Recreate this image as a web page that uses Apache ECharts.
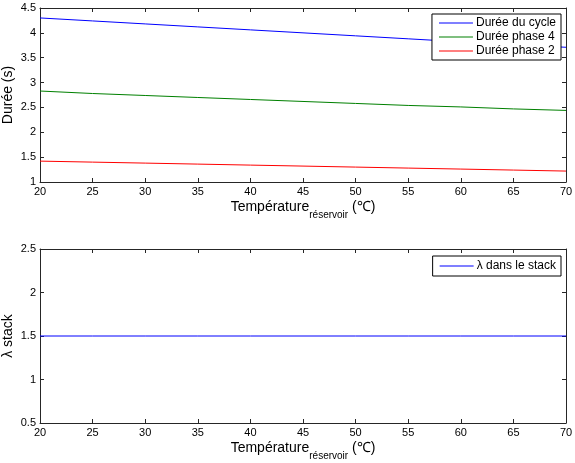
<!DOCTYPE html>
<html><head><meta charset="utf-8">
<script src="https://cdn.jsdelivr.net/npm/echarts@6/dist/echarts.min.js"></script>
<style>html,body{margin:0;padding:0;background:#fff}#c{width:575px;height:463px}</style>
</head><body><div id="c"></div>
<script>
const temps = [20,25,30,35,40,45,50,55,60,65,70];
const dureeCycle  = [4.30,4.24,4.18,4.12,4.06,4.00,3.94,3.88,3.82,3.76,3.71];
const dureePhase4 = [2.83,2.78,2.74,2.70,2.66,2.62,2.58,2.54,2.51,2.47,2.44];
const dureePhase2 = [1.42,1.40,1.38,1.36,1.34,1.32,1.30,1.28,1.26,1.24,1.22];
const lambdaStack = [1.5,1.5,1.5,1.5,1.5,1.5,1.5,1.5,1.5,1.5,1.5];

const FONT = 'Liberation Sans, Arial, Helvetica, sans-serif';
const pairs = (ys) => temps.map((t,i)=>[t, ys[i]]);
const chart = echarts.init(document.getElementById('c'));

const xName = '{a|Température}{b|réservoir}{a| (℃)}';
const nameRich = {
  a: {fontSize: 14, fontFamily: FONT, color: '#000', verticalAlign: 'top', lineHeight: 16},
  b: {fontSize: 10, fontFamily: FONT, color: '#000', verticalAlign: 'top', padding: [10, 0, 0, 0], lineHeight: 12}
};
function xAx(gi, bottom) {
  return {
    type: 'value', gridIndex: gi, min: 20, max: 70, interval: 5,
    position: bottom ? 'bottom' : 'top',
    name: bottom ? xName : '', nameLocation: 'middle', nameGap: 18,
    nameTextStyle: {rich: nameRich},
    axisLine: {show: true, onZero: false, lineStyle: {color: '#262626', width: 1}},
    axisTick: {show: true, inside: true, length: 4, lineStyle: {color: '#262626'}},
    axisLabel: {show: bottom, fontSize: 11, fontFamily: FONT, color: '#000', margin: 4},
    splitLine: {show: false}
  };
}
function yAx(gi, left, min, max, interval, name) {
  return {
    type: 'value', gridIndex: gi, min: min, max: max, interval: interval,
    position: left ? 'left' : 'right',
    name: left ? name : '', nameLocation: 'middle', nameGap: 25, nameMoveOverlap: false,
    nameTextStyle: {fontSize: 14, fontFamily: FONT, color: '#000'},
    axisLine: {show: true, onZero: false, lineStyle: {color: '#262626', width: 1}},
    axisTick: {show: true, inside: true, length: 4, lineStyle: {color: '#262626'}},
    axisLabel: {show: left, fontSize: 11, fontFamily: FONT, color: '#000', margin: 4},
    splitLine: {show: false}
  };
}
const legendCommon = {
  orient: 'vertical', backgroundColor: '#fff', borderColor: '#000', borderWidth: 1,
  borderRadius: 0, padding: [2, 5, 2, 7], itemGap: 0, itemWidth: 34, itemHeight: 1,
  icon: 'rect', align: 'left',
  textStyle: {fontSize: 12, fontFamily: FONT, color: '#000', lineHeight: 14, padding: [0,0,0,-2]},
  selectedMode: false
};
chart.setOption({
  animation: false,
  backgroundColor: '#fff',
  grid: [
    {left: 40, right: 9, top: 8, height: 174, outerBoundsMode: 'none', containLabel: false},
    {left: 40, right: 9, top: 249, height: 174, outerBoundsMode: 'none', containLabel: false}
  ],
  xAxis: [xAx(0, true), xAx(0, false), xAx(1, true), xAx(1, false)],
  yAxis: [yAx(0, true, 1, 4.5, 0.5, 'Durée (s)'), yAx(0, false, 1, 4.5, 0.5),
          yAx(1, true, 0.5, 2.5, 0.5, 'λ stack'), yAx(1, false, 0.5, 2.5, 0.5)],
  legend: [
    Object.assign({}, legendCommon, {right: 14, top: 14, data: ['Durée du cycle','Durée phase 4','Durée phase 2']}),
    Object.assign({}, legendCommon, {right: 14, top: 256, padding: [3, 5, 3, 7], data: ['λ dans le stack']})
  ],
  series: [
    {name: 'Durée du cycle', type: 'line', xAxisIndex: 0, yAxisIndex: 0, data: pairs(dureeCycle), showSymbol: false, lineStyle: {color: '#0000ff', width: 1}, itemStyle: {color: '#0000ff'}},
    {name: 'Durée phase 4', type: 'line', xAxisIndex: 0, yAxisIndex: 0, data: pairs(dureePhase4), showSymbol: false, lineStyle: {color: '#008000', width: 1}, itemStyle: {color: '#008000'}},
    {name: 'Durée phase 2', type: 'line', xAxisIndex: 0, yAxisIndex: 0, data: pairs(dureePhase2), showSymbol: false, lineStyle: {color: '#ff0000', width: 1}, itemStyle: {color: '#ff0000'}},
    {name: 'λ dans le stack', type: 'line', xAxisIndex: 2, yAxisIndex: 2, data: pairs(lambdaStack), showSymbol: false, lineStyle: {color: '#0000ff', width: 1}, itemStyle: {color: '#0000ff'}}
  ]
});
</script></body></html>
